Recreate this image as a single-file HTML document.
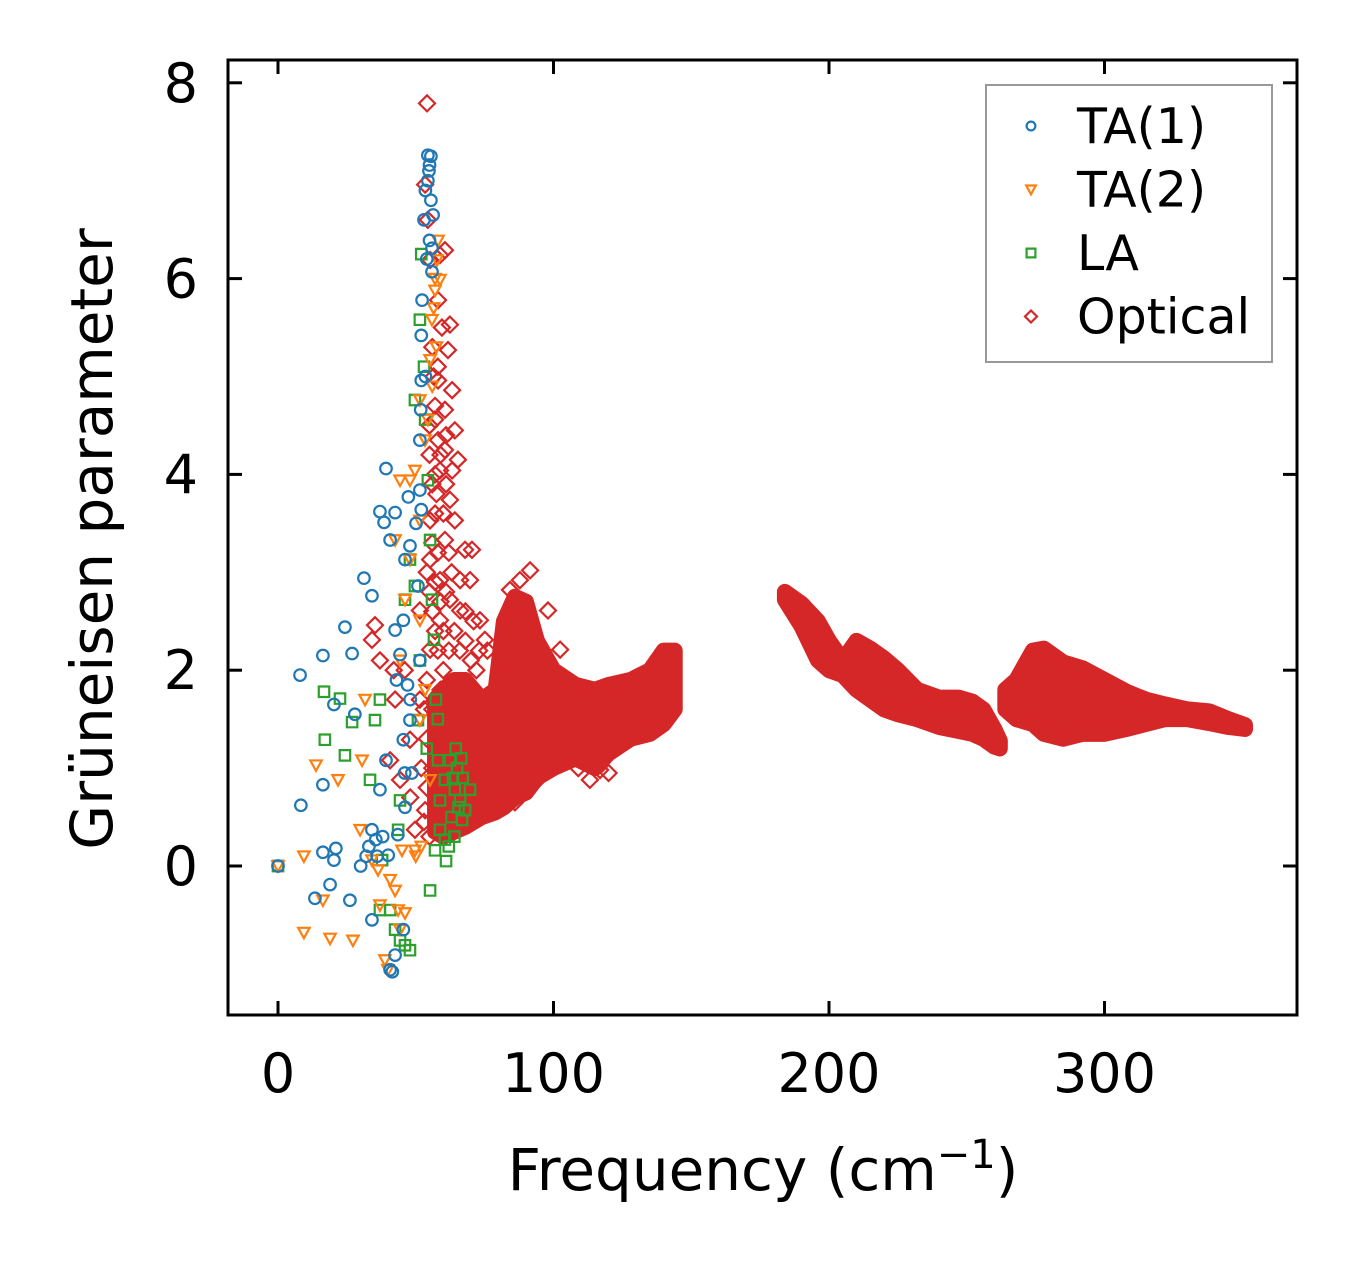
<!DOCTYPE html>
<html><head><meta charset="utf-8"><style>
body{margin:0;background:#fff}
svg{display:block}
text{font-family:"DejaVu Sans","Liberation Sans",sans-serif;fill:#000}
</style></head><body>
<svg id="chart" width="1357" height="1264" viewBox="0 0 1357 1264" xmlns="http://www.w3.org/2000/svg">
<rect width="1357" height="1264" fill="#fff"/>
<g id="marks"></g>
<rect x="228" y="60" width="1069" height="955" fill="none" stroke="#000" stroke-width="3"/>
<g id="ticks"></g>
<text x="763" y="1190" font-size="58" text-anchor="middle">Frequency (cm<tspan dy="-22" font-size="40">−1</tspan><tspan dy="22">)</tspan></text>
<text transform="translate(112,539) rotate(-90)" font-size="58" text-anchor="middle">Grüneisen parameter</text>
<g>
<rect x="986" y="85" width="286" height="277" fill="#fff" stroke="#999" stroke-width="2"/>
<g id="legend-items"></g>
</g>
</svg>
<script>
const xTicks=[0,100,200,300];
const yTicks=[0,2,4,6,8];
const seriesNames=["TA(1)","TA(2)","LA","Optical"];
const ta1=[[0,0],[8,1.95],[8.3,0.62],[16.3,2.15],[20.3,1.65],[16.3,0.83],[13.4,-0.33],[16.3,0.14],[18.9,-0.19],[20.3,0.06],[21,0.18],[24.3,2.44],[26.1,-0.35],[26.9,2.17],[27.9,1.55],[31.2,2.94],[34.1,2.76],[37,3.62],[38.5,3.51],[39.2,4.06],[40.7,3.33],[42.5,3.61],[34.1,0.37],[35.5,0.27],[37,0.78],[34.1,-0.55],[40.7,-1.06],[42.5,-0.91],[40,0.11],[39.2,1.08],[42.5,2.41],[44.3,2.16],[43.5,0.32],[45.5,2.51],[46.1,0.6],[45.5,1.29],[46.1,3.13],[47.3,3.77],[47.9,3.27],[47,1.85],[47.9,1.49],[48.6,0.95],[50.1,3.5],[50.8,2.86],[51.5,2.1],[51.5,3.84],[52,4.96],[52,5.42],[52.3,5.78],[53,6.6],[54.4,7.0],[54.4,7.26],[55,7.16],[55.5,6.8],[55.9,6.31],[55.9,6.07],[56.3,6.65],[55,6.39],[53.5,6.9],[51.5,4.35],[51.8,4.66],[52,3.64],[45.5,-0.65],[41.5,-1.08],[33,0.2],[36,0.1],[38,0.3],[32,0.1],[30,0.0],[54.8,7.1],[55.5,7.25],[54,6.2],[53.5,5.0],[46,0.95],[48,1.7],[43,1.9]];
const ta2=[[0,0],[9.4,-0.68],[9.4,0.1],[13.8,1.03],[16.3,-0.35],[18.9,-0.74],[21.8,0.88],[27.2,-0.76],[29.8,0.37],[30.5,1.08],[31.6,1.7],[34.1,0.06],[36.3,-0.04],[37,-0.4],[38.8,-0.96],[39.9,-1.06],[40.7,-0.14],[42.5,-0.25],[43.6,-0.45],[44.3,-0.65],[46.1,-0.48],[45,0.16],[42.5,3.33],[44.3,3.94],[47.9,3.94],[49.7,4.04],[51.5,3.53],[53.4,4.35],[54.4,4.56],[55.2,5.17],[55.9,5.58],[57,5.88],[57.7,6.19],[58.1,6.39],[58.8,5.99],[44.3,2.1],[46.1,2.72],[51.5,1.49],[49.7,0.16],[53.4,1.8],[55.2,0.88],[51.5,2.51],[47.9,3.13],[51.5,4.76],[56.5,5.7],[57.5,5.3],[56,4.9],[57,6.0],[50,0.1],[52,0.2]];
const la=[[0,0],[16.7,1.78],[17,1.29],[22.5,1.71],[24.3,1.13],[26.9,1.47],[33.4,0.88],[35.2,1.49],[37,1.7],[37.8,0.06],[37,-0.45],[40.7,-0.45],[42.5,-0.65],[44.3,-0.76],[46.1,-0.81],[47.9,-0.86],[43.6,0.37],[44.3,0.67],[46.1,2.72],[47.9,3.13],[49.7,2.86],[50.8,1.49],[51.5,5.58],[53.4,4.56],[54.4,3.94],[55.2,3.33],[55.9,2.72],[56.6,2.31],[57.3,1.7],[58.1,1.08],[58.8,0.67],[60.6,0.88],[62.4,1.08],[64.2,0.78],[66.1,0.67],[66.8,0.47],[67.9,0.57],[69.7,0.78],[55.2,-0.25],[57,0.16],[58.8,0.37],[60.6,0.27],[51.5,2.1],[49.7,4.76],[52,6.25],[53,5.1],[65,1.0],[67,0.9],[63,0.5],[64,0.3],[65.5,0.6],[62,0.2],[61,0.05],[63.5,0.9],[66.5,1.1],[64.5,1.2],[58,1.5],[54,1.2]];
const optical=[[54.1,7.79],[53.4,6.96],[54.4,6.6],[55.2,6.19],[58.8,6.24],[60.6,6.29],[58.1,5.78],[61.7,5.27],[62.4,5.53],[58.1,4.96],[60.6,4.66],[63.2,4.86],[64.2,4.45],[65.3,4.15],[60.6,4.25],[58.1,4.35],[62.4,3.74],[64.2,3.53],[67.9,3.23],[70.4,3.23],[69.7,2.92],[66.1,2.92],[35.2,2.46],[34.1,2.31],[37,2.1],[42.5,1.7],[40.7,1.08],[44.3,0.88],[47.9,1.29],[51.5,1.7],[55.2,2.21],[58.8,2.51],[66.1,2.61],[73.3,2.51],[75.1,2.31],[84.2,2.82],[87.8,2.92],[91.5,3.02],[98,2.61],[102.4,2.21],[113.2,0.88],[116.9,0.98],[102.4,1.08],[55.2,3.13],[51.5,2.61],[57,4.56],[63.2,4.04],[53.4,0.57],[49.7,0.37],[58.8,4.04],[60.6,3.33],[55.2,3.53],[58.8,2.92],[62.4,2.72],[56.5,5.0],[59.5,5.5],[57.5,3.8],[61,3.9],[63,3.0],[46,2.0],[48,0.7],[42,2.0],[70,1.2],[80,0.7],[86,0.65],[95,0.9],[109,1.0],[120,0.95],
[55,4.2],[56,3.9],[57,3.6],[56,3.3],[58,3.2],[57,2.9],[59,2.7],[60,2.4],[56,2.6],[58,2.2],[60,2.0],[62,2.2],[64,2.4],[66,2.2],[68,2.3],[70,2.1],[72,2.0],[54,1.9],[56,1.6],[54,1.3],[52,1.0],[54,0.8],[56,1.0],[53,0.45],[55,0.3],[57,4.0],[59,4.2],[61,4.4],[60,3.6],[62,3.2],[61,2.8],[59,1.8],[55,2.8],[57,2.4],[53,1.6],[56,5.3],[58,5.1],[57,4.7],[55,4.5],[54,3.0],[68,2.6],[71,2.5],[73,2.2],[76,2.2]];
// dense optical bands: [x, lower, upper]
const bandA=[[57,0.35,1.7],[60,0.3,1.8],[64,0.35,1.9],[68,0.4,1.9],[74,0.5,1.7],[79,0.55,1.8],[82,0.6,2.5],[86,0.7,2.75],[90,0.75,2.7],[94,0.9,2.3],[100,1.0,2.0],[108,1.1,1.85],[115,1.0,1.8],[120,1.15,1.85],[128,1.3,1.9],[135,1.35,2.0],[140,1.45,2.2],[144,1.6,2.2]];
const bandB=[[184,2.72,2.8],[190,2.45,2.68],[196,2.1,2.5],[200,2.0,2.3],[205,1.95,2.1],[210,1.8,2.3],[215,1.7,2.22],[220,1.6,2.12],[225,1.55,2.0],[232,1.5,1.8],[240,1.42,1.72],[247,1.38,1.72],[252,1.35,1.68],[256,1.3,1.6],[260,1.22,1.4],[262,1.2,1.28]];
const bandC=[[264,1.6,1.8],[268,1.5,1.9],[274,1.45,2.2],[278,1.35,2.22],[285,1.3,2.08],[292,1.35,2.02],[300,1.35,1.9],[308,1.4,1.78],[315,1.45,1.7],[322,1.5,1.65],[330,1.5,1.6],[338,1.46,1.58],[345,1.42,1.5],[351,1.4,1.44]];

const NS="http://www.w3.org/2000/svg";
const X=v=>278+v*2.755;
const Y=v=>866-v*97.9;
const colors=["#1f77b4","#ff7f0e","#2ca02c","#d62728"];
const marks=document.getElementById("marks");
function mk(tag){return document.createElementNS(NS,tag);}
function marker(kind,cx,cy,s,col){
  let el;
  if(kind===0){el=mk("circle");el.setAttribute("cx",cx);el.setAttribute("cy",cy);el.setAttribute("r",5.5*s);}
  else{el=mk("polygon");let p;
    if(kind===1)p=[[cx-6*s,cy-5*s],[cx+6*s,cy-5*s],[cx,cy+6*s]];
    else if(kind===2)p=[[cx-5.5*s,cy-5.5*s],[cx+5.5*s,cy-5.5*s],[cx+5.5*s,cy+5.5*s],[cx-5.5*s,cy+5.5*s]];
    else p=[[cx,cy-8*s],[cx+8*s,cy],[cx,cy+8*s],[cx-8*s,cy]];
    el.setAttribute("points",p.map(q=>q.join(",")).join(" "));}
  el.setAttribute("fill","none");el.setAttribute("stroke",col);el.setAttribute("stroke-width",2.2);
  return el;
}
function band(arr,name){
  const pts=arr.map(d=>[X(d[0]),Y(d[2])]).concat(arr.slice().reverse().map(d=>[X(d[0]),Y(d[1])]));
  const el=mk("polygon");
  el.setAttribute("points",pts.map(q=>q.join(",")).join(" "));
  el.setAttribute("fill",colors[3]);el.setAttribute("stroke",colors[3]);
  el.setAttribute("stroke-width",16);el.setAttribute("stroke-linejoin","round");
  
  
  marks.appendChild(el);
}
band(bandA,"optical-band-low-freq");
band(bandB,"optical-band-mid-freq");
band(bandC,"optical-band-high-freq");
optical.forEach(d=>{const el=marker(3,X(d[0]),Y(d[1]),1,colors[3]);


marks.appendChild(el);});
la.forEach(d=>{const el=marker(2,X(d[0]),Y(d[1]),0.95,colors[2]);


marks.appendChild(el);});
ta2.forEach(d=>{const el=marker(1,X(d[0]),Y(d[1]),0.95,colors[1]);


marks.appendChild(el);});
ta1.forEach(d=>{const el=marker(0,X(d[0]),Y(d[1]),1.05,colors[0]);


marks.appendChild(el);});

const ticks=document.getElementById("ticks");
function line(x1,y1,x2,y2,name){const l=mk("line");l.setAttribute("x1",x1);l.setAttribute("y1",y1);l.setAttribute("x2",x2);l.setAttribute("y2",y2);l.setAttribute("stroke","#000");l.setAttribute("stroke-width",3);


ticks.appendChild(l);}
function label(x,y,t,anchor,name){const e=mk("text");e.setAttribute("x",x);e.setAttribute("y",y);e.setAttribute("font-size",54);e.setAttribute("text-anchor",anchor);e.textContent=t;


ticks.appendChild(e);}
xTicks.forEach(v=>{const x=X(v);line(x,1015,x,1001,"x-tick");line(x,60,x,74,"x-tick-top");label(x,1092,String(v),"middle","x-tick-label");});
yTicks.forEach(v=>{const y=Y(v);line(228,y,242,y,"y-tick");line(1297,y,1283,y,"y-tick-right");label(198,y+19,String(v),"end","y-tick-label");});

const lg=document.getElementById("legend-items");
seriesNames.forEach((n,i)=>{const cy=126+i*63.5;
const m=marker(i,1031,cy,i===3?0.75:0.8,colors[i]);


lg.appendChild(m);
const t=mk("text");t.setAttribute("x",1077);t.setAttribute("y",cy+17);t.setAttribute("font-size",49);t.textContent=n;


lg.appendChild(t);});
</script>
</body></html>
